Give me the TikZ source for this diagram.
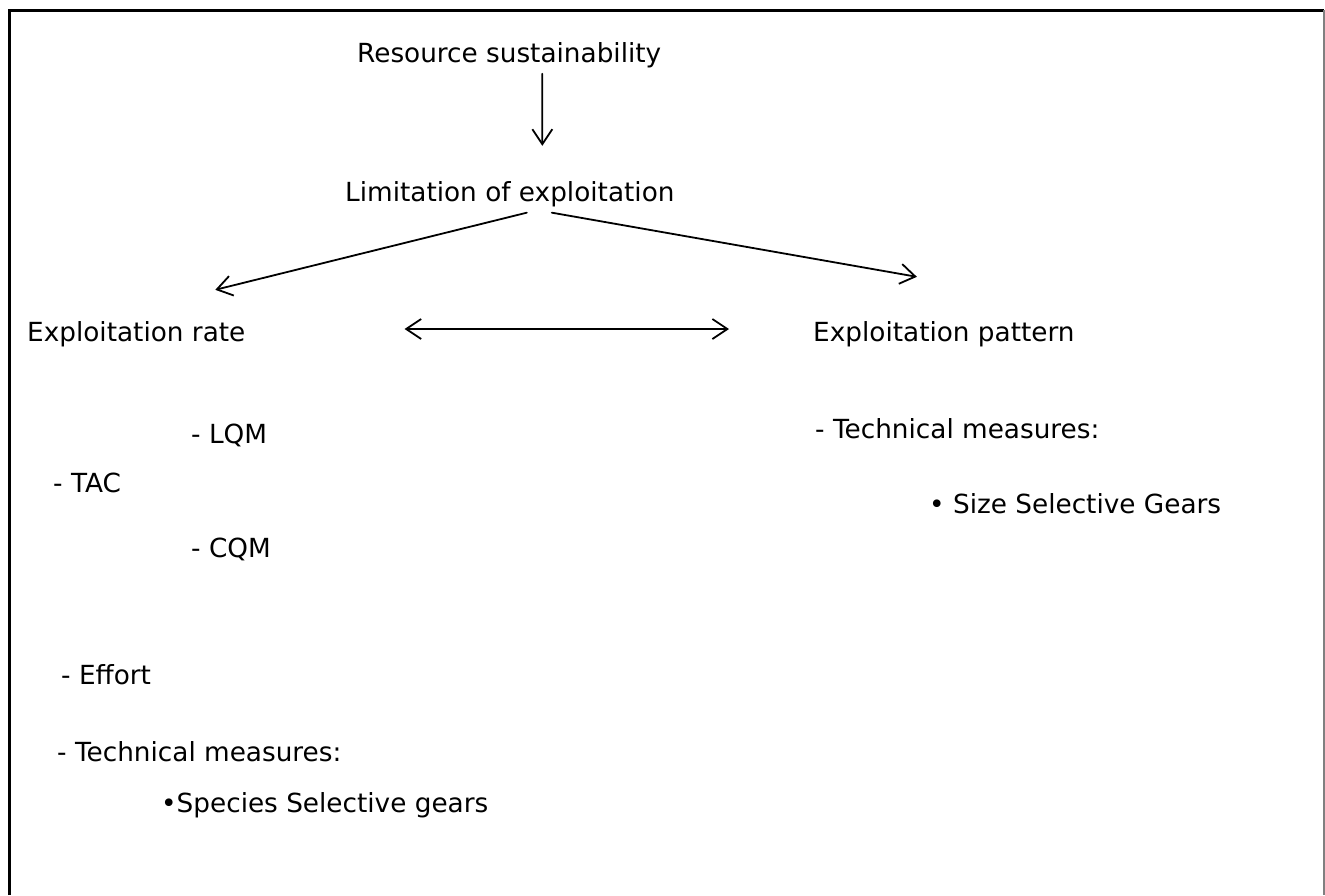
\documentclass[tikz,border=0pt]{standalone}
\usepackage{fontspec}
\setmainfont{DejaVu Sans}
\usetikzlibrary{arrows.meta}

\tikzset{
  >={Straight Barb[length=15pt,width=20pt]},
  lbl/.style={anchor=base west, inner sep=0pt, font=\fontsize{26.3}{30}\selectfont},
  arr/.style={->, line width=1.8pt, line cap=round},
}

\begin{document}
\begin{tikzpicture}[x=1pt, y=-1pt]
            \useasboundingbox (0,0) rectangle (1325,895);
            \draw[black, line width=3pt] (9,895) -- (9,10) -- (1324,10);
            \draw[gray, line width=1.5pt] (1324,10) -- (1324,895);

            \node[lbl] (res) at (357,62) {Resource sustainability};
            \node[lbl] (lim) at (345,201) {Limitation of exploitation};
            \node[lbl] (rate) at (27,341) {Exploitation rate};
            \node[lbl] (patt) at (813,341) {Exploitation pattern};

            \node[lbl] (lqm) at (191,443) {- LQM};
            \node[lbl] (tac) at (53,492) {- TAC};
            \node[lbl] (cqm) at (191,557) {- CQM};
            \node[lbl] (eff) at (61,684) {- Effort};
            \node[lbl] (tml) at (57,761) {- Technical measures:};
            \node[lbl] (ssg) at (161,812) {\textbullet Species Selective gears};

            \node[lbl] (tmr) at (815,438) {- Technical measures:};
            \node[lbl] (sizeg) at (929,513) {\textbullet{} Size Selective Gears};

            \draw[arr] ([xshift=33pt,yshift=-6pt]res.south) -- ([xshift=32.5pt,yshift=35pt]lim.north);
            \draw[arr] ([xshift=17pt,yshift=-6pt]lim.south) -- ([xshift=79pt,yshift=31pt]rate.north);
            \draw[arr] ([xshift=42pt,yshift=-6pt]lim.south) -- ([xshift=-27pt,yshift=44pt]patt.north);
            \draw[arr, <->] ([xshift=159pt,yshift=12pt]rate.base east) -- ([xshift=-84pt,yshift=12pt]patt.base west);
        \end{tikzpicture}
\end{document}
